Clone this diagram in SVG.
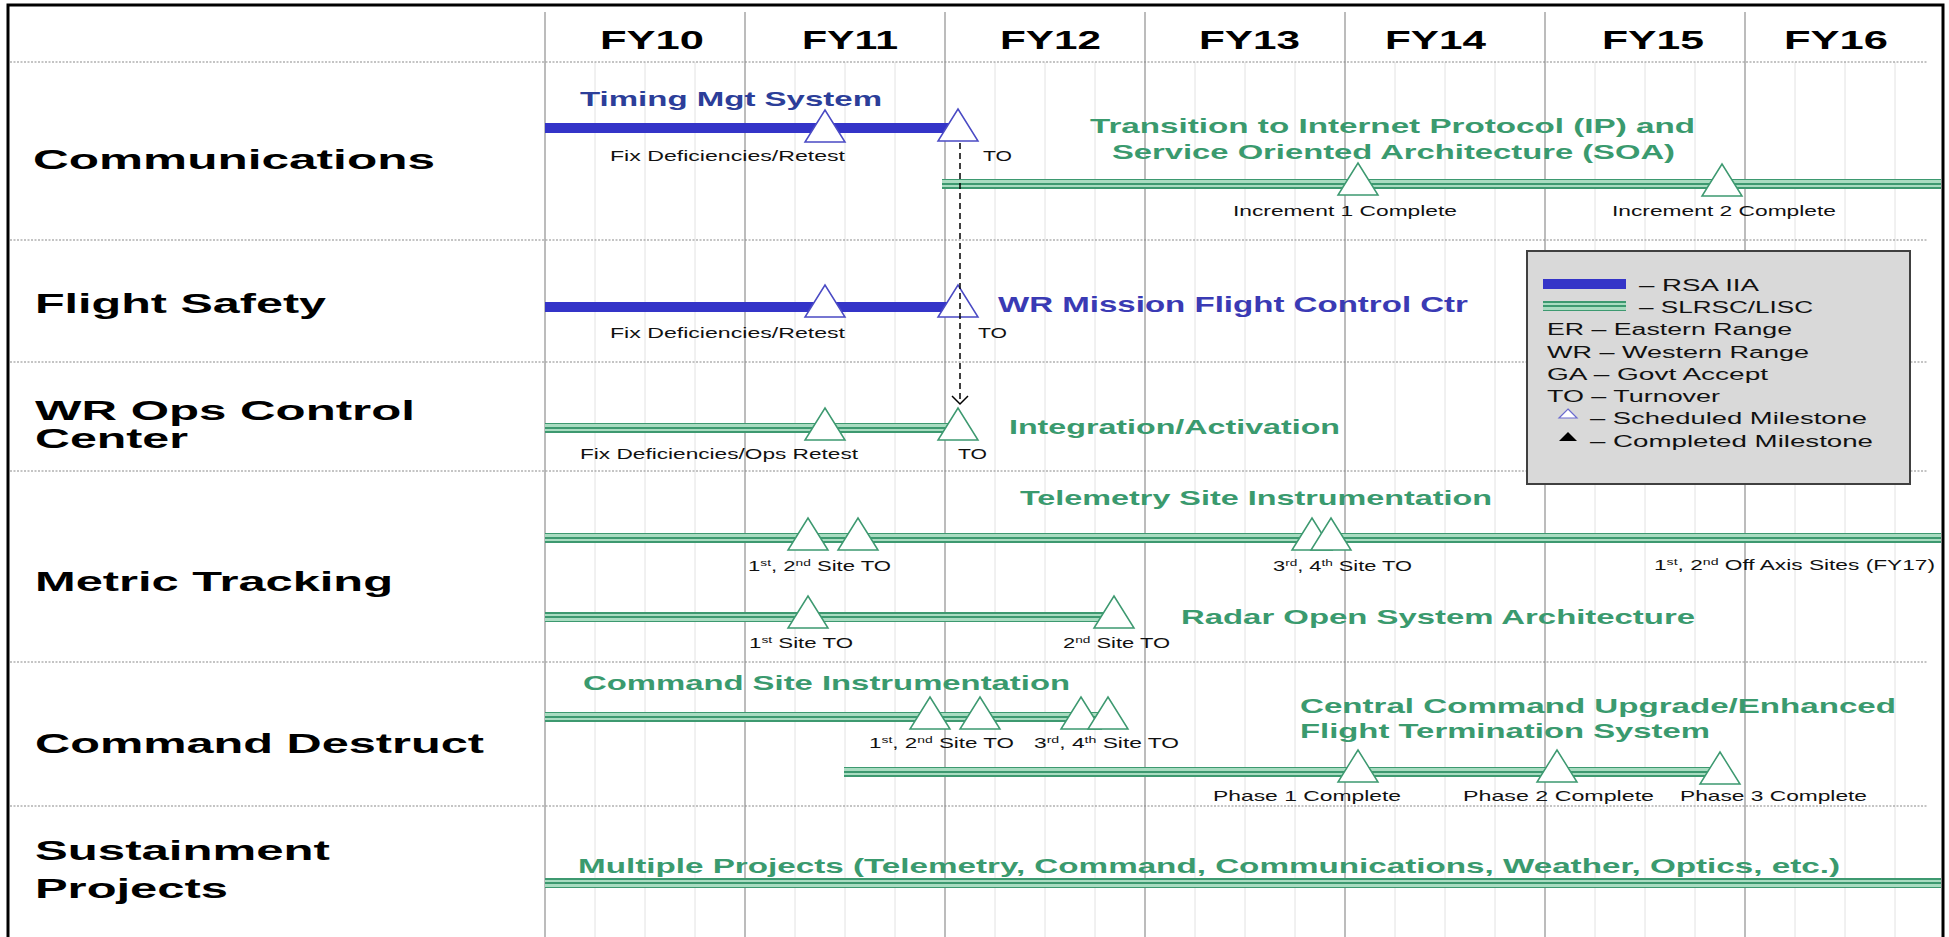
<svg xmlns="http://www.w3.org/2000/svg" xmlns:xlink="http://www.w3.org/1999/xlink" width="1949" height="937" viewBox="0 0 1949 937">
<style>
text{font-family:"Liberation Sans",Arial,sans-serif}
.lbl{font-weight:bold;font-size:27px;fill:#000}
.fy{font-weight:bold;font-size:25px;fill:#000}
.gt{font-weight:bold;font-size:21px;fill:#3a9a6e}
.bt{font-weight:bold;font-size:21px;fill:#2c3e99}
.bt2{font-weight:bold;font-size:22px;fill:#3a3ab4}
.sm{font-size:14.5px;fill:#111}
.sup{font-size:9px}
.lg{font-size:16px;fill:#111}
.maj{stroke:#a6a6a6;stroke-width:1.5}
.min{stroke:#e2e2e2;stroke-width:1}
.div{stroke:#8a8a8a;stroke-width:1.2;stroke-dasharray:2 1.5}
.bb{fill:#3434c8}
.gb{fill:url(#gstripe)}
.tg{fill:#fff;stroke:#3d9970;stroke-width:1.5}
.tb{fill:#fff;stroke:#4a4ac4;stroke-width:1.5}
.conn{stroke:#000;stroke-width:1.5;stroke-dasharray:6 4;fill:none}
</style>
<defs>
<linearGradient id="gstripe" x1="0" y1="0" x2="0" y2="1">
<stop offset="0" stop-color="#3d9970"/><stop offset="0.15" stop-color="#3d9970"/>
<stop offset="0.15" stop-color="#a9dcc1"/><stop offset="0.42" stop-color="#a9dcc1"/>
<stop offset="0.42" stop-color="#3d9970"/><stop offset="0.58" stop-color="#3d9970"/>
<stop offset="0.58" stop-color="#a9dcc1"/><stop offset="0.85" stop-color="#a9dcc1"/>
<stop offset="0.85" stop-color="#3d9970"/><stop offset="1" stop-color="#3d9970"/>
</linearGradient>
<path id="triG" class="tg" d="M0,-32 L20,0 L-20,0 Z"/>
<path id="triB" class="tb" d="M0,-32 L20,0 L-20,0 Z"/>
<marker id="vhead" markerUnits="userSpaceOnUse" markerWidth="20" markerHeight="20" refX="0" refY="0" viewBox="-10 -10 20 20" orient="auto" overflow="visible">
<path d="M-8,-8 L0,0 L-8,8" fill="none" stroke="#000" stroke-width="1.5"/>
</marker>
</defs>
<rect width="1949" height="937" fill="#fff"/>
<g id="grid">
<g class="min">
<line x1="595" y1="62" x2="595" y2="937"/><line x1="645" y1="62" x2="645" y2="937"/><line x1="695" y1="62" x2="695" y2="937"/>
<line x1="795" y1="62" x2="795" y2="937"/><line x1="845" y1="62" x2="845" y2="937"/><line x1="895" y1="62" x2="895" y2="937"/>
<line x1="995" y1="62" x2="995" y2="937"/><line x1="1045" y1="62" x2="1045" y2="937"/><line x1="1095" y1="62" x2="1095" y2="937"/>
<line x1="1195" y1="62" x2="1195" y2="937"/><line x1="1245" y1="62" x2="1245" y2="937"/><line x1="1295" y1="62" x2="1295" y2="937"/>
<line x1="1395" y1="62" x2="1395" y2="937"/><line x1="1445" y1="62" x2="1445" y2="937"/><line x1="1495" y1="62" x2="1495" y2="937"/>
<line x1="1595" y1="62" x2="1595" y2="937"/><line x1="1645" y1="62" x2="1645" y2="937"/><line x1="1695" y1="62" x2="1695" y2="937"/>
<line x1="1795" y1="62" x2="1795" y2="937"/><line x1="1845" y1="62" x2="1845" y2="937"/><line x1="1895" y1="62" x2="1895" y2="937"/>
</g>
<g class="maj">
<line x1="545" y1="12" x2="545" y2="937"/><line x1="745" y1="12" x2="745" y2="937"/><line x1="945" y1="12" x2="945" y2="937"/>
<line x1="1145" y1="12" x2="1145" y2="937"/><line x1="1345" y1="12" x2="1345" y2="937"/><line x1="1545" y1="12" x2="1545" y2="937"/>
<line x1="1745" y1="12" x2="1745" y2="937"/>
</g>
<g class="div">
<line x1="10" y1="62" x2="1927" y2="62"/><line x1="10" y1="240" x2="1927" y2="240"/><line x1="10" y1="362" x2="1927" y2="362"/>
<line x1="10" y1="471" x2="1927" y2="471"/><line x1="10" y1="662" x2="1927" y2="662"/><line x1="10" y1="806" x2="1927" y2="806"/>
</g>
<path d="M8,937 L8,5 L1943,5 L1943,937" fill="none" stroke="#000" stroke-width="3"/>
</g>
<g id="header">
<text class="fy" x="600" y="49" textLength="104" lengthAdjust="spacingAndGlyphs">FY10</text>
<text class="fy" x="802" y="49" textLength="96" lengthAdjust="spacingAndGlyphs">FY11</text>
<text class="fy" x="1000" y="49" textLength="101" lengthAdjust="spacingAndGlyphs">FY12</text>
<text class="fy" x="1199" y="49" textLength="101" lengthAdjust="spacingAndGlyphs">FY13</text>
<text class="fy" x="1385" y="49" textLength="101" lengthAdjust="spacingAndGlyphs">FY14</text>
<text class="fy" x="1602" y="49" textLength="102" lengthAdjust="spacingAndGlyphs">FY15</text>
<text class="fy" x="1784" y="49" textLength="104" lengthAdjust="spacingAndGlyphs">FY16</text>
</g>
<g id="row-communications">
<text class="lbl" x="33" y="169" textLength="402" lengthAdjust="spacingAndGlyphs">Communications</text>
<rect class="bb" x="545" y="123" width="413" height="10"/>
<use xlink:href="#triB" x="825" y="142"/>
<use xlink:href="#triB" x="958" y="141"/>
<text class="bt" x="580" y="106" textLength="302" lengthAdjust="spacingAndGlyphs">Timing Mgt System</text>
<text class="sm" x="610" y="161" textLength="235" lengthAdjust="spacingAndGlyphs">Fix Deficiencies/Retest</text>
<text class="sm" x="983" y="161" textLength="29" lengthAdjust="spacingAndGlyphs">TO</text>
<rect class="gb" x="942" y="179" width="999" height="10"/>
<use xlink:href="#triG" x="1358" y="195"/>
<use xlink:href="#triG" x="1722" y="196"/>
<text class="gt" x="1090" y="133" textLength="605" lengthAdjust="spacingAndGlyphs">Transition to Internet Protocol (IP) and</text>
<text class="gt" x="1112" y="159" textLength="563" lengthAdjust="spacingAndGlyphs">Service Oriented Architecture (SOA)</text>
<text class="sm" x="1233" y="216" textLength="224" lengthAdjust="spacingAndGlyphs">Increment 1 Complete</text>
<text class="sm" x="1612" y="216" textLength="224" lengthAdjust="spacingAndGlyphs">Increment 2 Complete</text>
</g>
<g id="row-flight-safety">
<text class="lbl" x="35" y="313" textLength="291" lengthAdjust="spacingAndGlyphs">Flight Safety</text>
<rect class="bb" x="545" y="302" width="413" height="10"/>
<use xlink:href="#triB" x="825" y="317"/>
<use xlink:href="#triB" x="958" y="317"/>
<text class="sm" x="610" y="338" textLength="235" lengthAdjust="spacingAndGlyphs">Fix Deficiencies/Retest</text>
<text class="sm" x="978" y="338" textLength="29" lengthAdjust="spacingAndGlyphs">TO</text>
<text class="bt2" x="998" y="312" textLength="470" lengthAdjust="spacingAndGlyphs">WR Mission Flight Control Ctr</text>
</g>
<g id="row-wr-ops">
<text class="lbl" x="35" y="420" textLength="380" lengthAdjust="spacingAndGlyphs">WR Ops Control</text>
<text class="lbl" x="35" y="448" textLength="153" lengthAdjust="spacingAndGlyphs">Center</text>
<rect class="gb" x="545" y="423" width="413" height="10"/>
<use xlink:href="#triG" x="825" y="440"/>
<use xlink:href="#triG" x="958" y="440"/>
<text class="sm" x="580" y="459" textLength="278" lengthAdjust="spacingAndGlyphs">Fix Deficiencies/Ops Retest</text>
<text class="sm" x="958" y="459" textLength="29" lengthAdjust="spacingAndGlyphs">TO</text>
<text class="gt" x="1009" y="434" textLength="331" lengthAdjust="spacingAndGlyphs">Integration/Activation</text>
</g>
<g id="row-metric-tracking">
<text class="lbl" x="35" y="591" textLength="358" lengthAdjust="spacingAndGlyphs">Metric Tracking</text>
<text class="gt" x="1020" y="505" textLength="472" lengthAdjust="spacingAndGlyphs">Telemetry Site Instrumentation</text>
<rect class="gb" x="545" y="533" width="1396" height="10"/>
<use xlink:href="#triG" x="808" y="550"/>
<use xlink:href="#triG" x="858" y="550"/>
<use xlink:href="#triG" x="1312" y="550"/>
<use xlink:href="#triG" x="1331" y="550"/>
<text class="sm" x="748" y="571" textLength="143" lengthAdjust="spacingAndGlyphs">1<tspan class="sup" dy="-5">st</tspan><tspan dy="5">, 2</tspan><tspan class="sup" dy="-5">nd</tspan><tspan dy="5"> Site TO</tspan></text>
<text class="sm" x="1273" y="571" textLength="139" lengthAdjust="spacingAndGlyphs">3<tspan class="sup" dy="-5">rd</tspan><tspan dy="5">, 4</tspan><tspan class="sup" dy="-5">th</tspan><tspan dy="5"> Site TO</tspan></text>
<text class="sm" x="1654" y="570" textLength="281" lengthAdjust="spacingAndGlyphs">1<tspan class="sup" dy="-5">st</tspan><tspan dy="5">, 2</tspan><tspan class="sup" dy="-5">nd</tspan><tspan dy="5"> Off Axis Sites (FY17)</tspan></text>
<rect class="gb" x="545" y="612" width="569" height="10"/>
<use xlink:href="#triG" x="808" y="628"/>
<use xlink:href="#triG" x="1114" y="628"/>
<text class="sm" x="749" y="648" textLength="104" lengthAdjust="spacingAndGlyphs">1<tspan class="sup" dy="-5">st</tspan><tspan dy="5"> Site TO</tspan></text>
<text class="sm" x="1063" y="648" textLength="107" lengthAdjust="spacingAndGlyphs">2<tspan class="sup" dy="-5">nd</tspan><tspan dy="5"> Site TO</tspan></text>
<text class="gt" x="1181" y="624" textLength="514" lengthAdjust="spacingAndGlyphs">Radar Open System Architecture</text>
</g>
<g id="row-command-destruct">
<text class="lbl" x="35" y="753" textLength="449" lengthAdjust="spacingAndGlyphs">Command Destruct</text>
<text class="gt" x="583" y="690" textLength="487" lengthAdjust="spacingAndGlyphs">Command Site Instrumentation</text>
<rect class="gb" x="545" y="712" width="563" height="10"/>
<use xlink:href="#triG" x="930" y="729"/>
<use xlink:href="#triG" x="980" y="729"/>
<use xlink:href="#triG" x="1081" y="729"/>
<use xlink:href="#triG" x="1108" y="729"/>
<text class="sm" x="869" y="748" textLength="145" lengthAdjust="spacingAndGlyphs">1<tspan class="sup" dy="-5">st</tspan><tspan dy="5">, 2</tspan><tspan class="sup" dy="-5">nd</tspan><tspan dy="5"> Site TO</tspan></text>
<text class="sm" x="1034" y="748" textLength="145" lengthAdjust="spacingAndGlyphs">3<tspan class="sup" dy="-5">rd</tspan><tspan dy="5">, 4</tspan><tspan class="sup" dy="-5">th</tspan><tspan dy="5"> Site TO</tspan></text>
<text class="gt" x="1300" y="713" textLength="596" lengthAdjust="spacingAndGlyphs">Central Command Upgrade/Enhanced</text>
<text class="gt" x="1300" y="738" textLength="410" lengthAdjust="spacingAndGlyphs">Flight Termination System</text>
<rect class="gb" x="844" y="767" width="876" height="10"/>
<use xlink:href="#triG" x="1358" y="782"/>
<use xlink:href="#triG" x="1557" y="782"/>
<use xlink:href="#triG" x="1720" y="784"/>
<text class="sm" x="1213" y="801" textLength="188" lengthAdjust="spacingAndGlyphs">Phase 1 Complete</text>
<text class="sm" x="1463" y="801" textLength="191" lengthAdjust="spacingAndGlyphs">Phase 2 Complete</text>
<text class="sm" x="1680" y="801" textLength="187" lengthAdjust="spacingAndGlyphs">Phase 3 Complete</text>
</g>
<g id="row-sustainment">
<text class="lbl" x="35" y="860" textLength="295" lengthAdjust="spacingAndGlyphs">Sustainment</text>
<text class="lbl" x="35" y="898" textLength="193" lengthAdjust="spacingAndGlyphs">Projects</text>
<text class="gt" x="578" y="873" textLength="1262" lengthAdjust="spacingAndGlyphs">Multiple Projects (Telemetry, Command, Communications, Weather, Optics, etc.)</text>
<rect class="gb" x="545" y="878" width="1396" height="10"/>
</g>
<g id="connectors">
<line class="conn" x1="960" y1="143" x2="960" y2="404" marker-end="url(#vhead)"/>
</g>
<g id="legend">
<rect x="1527" y="251" width="383" height="233" fill="#d9d9d9" stroke="#404040" stroke-width="2"/>
<rect class="bb" x="1543" y="279" width="83" height="10"/>
<text class="lg" x="1639" y="291" textLength="120" lengthAdjust="spacingAndGlyphs">– RSA IIA</text>
<rect class="gb" x="1543" y="301" width="83" height="10"/>
<text class="lg" x="1639" y="313" textLength="174" lengthAdjust="spacingAndGlyphs">– SLRSC/LISC</text>
<text class="lg" x="1547" y="335" textLength="245" lengthAdjust="spacingAndGlyphs">ER – Eastern Range</text>
<text class="lg" x="1547" y="358" textLength="262" lengthAdjust="spacingAndGlyphs">WR – Western Range</text>
<text class="lg" x="1547" y="380" textLength="221" lengthAdjust="spacingAndGlyphs">GA – Govt Accept</text>
<text class="lg" x="1547" y="402" textLength="173" lengthAdjust="spacingAndGlyphs">TO – Turnover</text>
<path d="M1568,409 L1577,418 L1559,418 Z" fill="#fff" stroke="#6a6ad0" stroke-width="1.2"/>
<text class="lg" x="1590" y="424" textLength="277" lengthAdjust="spacingAndGlyphs">– Scheduled Milestone</text>
<path d="M1568,432 L1577,441 L1559,441 Z" fill="#000"/>
<text class="lg" x="1590" y="447" textLength="283" lengthAdjust="spacingAndGlyphs">– Completed Milestone</text>
</g>
</svg>
